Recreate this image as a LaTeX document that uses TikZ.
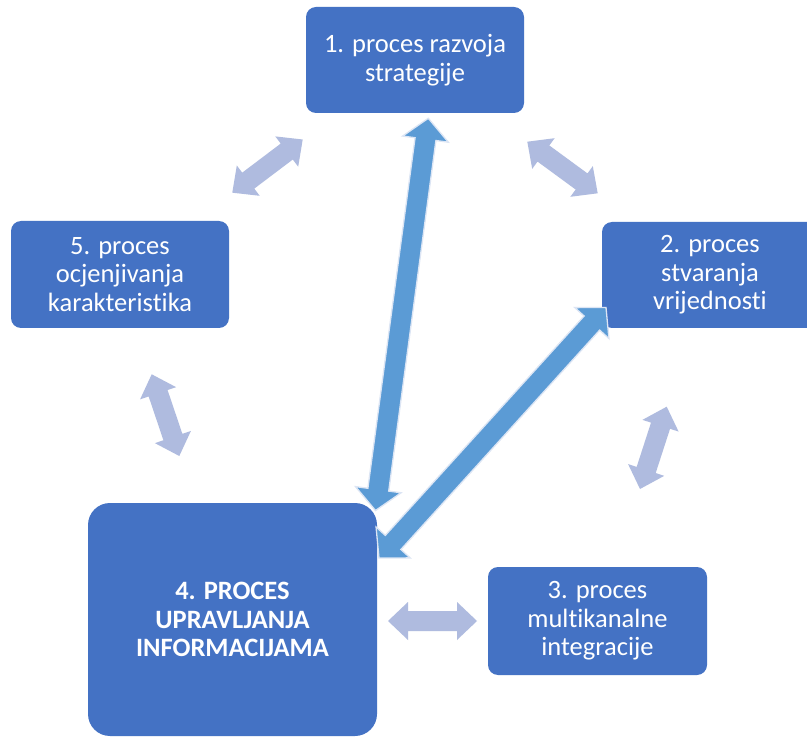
\documentclass[tikz,border=0pt]{standalone}
\usepackage{fontspec}
\setmainfont{Carlito}[Ligatures={NoCommon,NoRare,NoContextual}]
\usetikzlibrary{calc}
\definecolor{boxblue}{HTML}{4472C4}
\definecolor{darkarr}{HTML}{5B9BD5}
\definecolor{arredge}{HTML}{DCE5F4}
\definecolor{lightarr}{HTML}{AFBBDF}
\newcommand{\dblarr}[6]{%
  \coordinate (da) at ($(#1)!#5pt!(#2)$);
  \coordinate (db) at ($(#2)!#5pt!(#1)$);
  \path[#6] (#1) -- ($(da)!#4pt!90:(#2)$) -- ($(da)!#3pt!90:(#2)$)
    -- ($(db)!#3pt!-90:(#1)$) -- ($(db)!#4pt!-90:(#1)$) -- (#2)
    -- ($(db)!#4pt!90:(#1)$) -- ($(db)!#3pt!90:(#1)$)
    -- ($(da)!#3pt!-90:(#2)$) -- ($(da)!#4pt!-90:(#2)$) -- cycle;
}
\tikzset{
  procbox/.style={fill=boxblue, rounded corners=10pt, text=white, align=center,
    font=\fontsize{26.5}{28.5}\selectfont, inner sep=0pt},
  bigbox/.style={procbox, rounded corners=22pt, font=\fontsize{26.5}{28.5}\selectfont\bfseries},
  lightstyle/.style={fill=lightarr},
  darkstyle/.style={fill=darkarr, draw=arredge, line width=1.3pt, line join=miter}
}
\begin{document}
\begin{tikzpicture}[x=1pt,y=-1pt]
\useasboundingbox (0,0) rectangle (807,738);
\fill[white] (0,0) rectangle (807,738);
% boxes
\node[procbox, minimum width=218pt, minimum height=106pt] (b1) at (415,60) {1. proces razvoja\\strategije};
\node[procbox, minimum width=216pt, minimum height=106pt] (b2) at (710,275) {2. proces\\stvaranja\\vrijednosti};
\node[procbox, minimum width=219pt, minimum height=108pt] (b3) at (597.5,621) {3. proces\\multikanalne\\integracije};
\node[bigbox, minimum width=289pt, minimum height=233pt] (b4) at (232.5,619.5) {4. PROCES\\UPRAVLJANJA\\INFORMACIJAMA};
\node[procbox, minimum width=218pt, minimum height=107pt] (b5) at (120,274.5) {5. proces\\ocjenjivanja\\karakteristika};
% arrow end points
\coordinate (a15s) at (302.7,139.5);
\coordinate (a15e) at (232.3,192.7);
\coordinate (a12s) at (527.3,141.7);
\coordinate (a12e) at (597.7,193.3);
\coordinate (a54s) at (151.7,374.3);
\coordinate (a54e) at (179.3,456);
\coordinate (a23s) at (666.7,406.7);
\coordinate (a23e) at (640,489);
\coordinate (a43s) at (388,621);
\coordinate (a43e) at (477,621);
\coordinate (a14s) at (428.3,118.3);
\coordinate (a14e) at (375.5,510.5);
\coordinate (a24s) at (606,307.5);
\coordinate (a24e) at (379,558);
% light arrows
\dblarr{a15s}{a15e}{10}{19}{20}{lightstyle}
\dblarr{a12s}{a12e}{10}{19}{20}{lightstyle}
\dblarr{a54s}{a54e}{10}{19}{20}{lightstyle}
\dblarr{a23s}{a23e}{10}{19}{20}{lightstyle}
\dblarr{a43s}{a43e}{10}{19}{20}{lightstyle}
% dark arrows
\dblarr{a14s}{a14e}{10.5}{23}{21}{darkstyle}
\dblarr{a24s}{a24e}{10.5}{23}{21}{darkstyle}
\end{tikzpicture}
\end{document}
